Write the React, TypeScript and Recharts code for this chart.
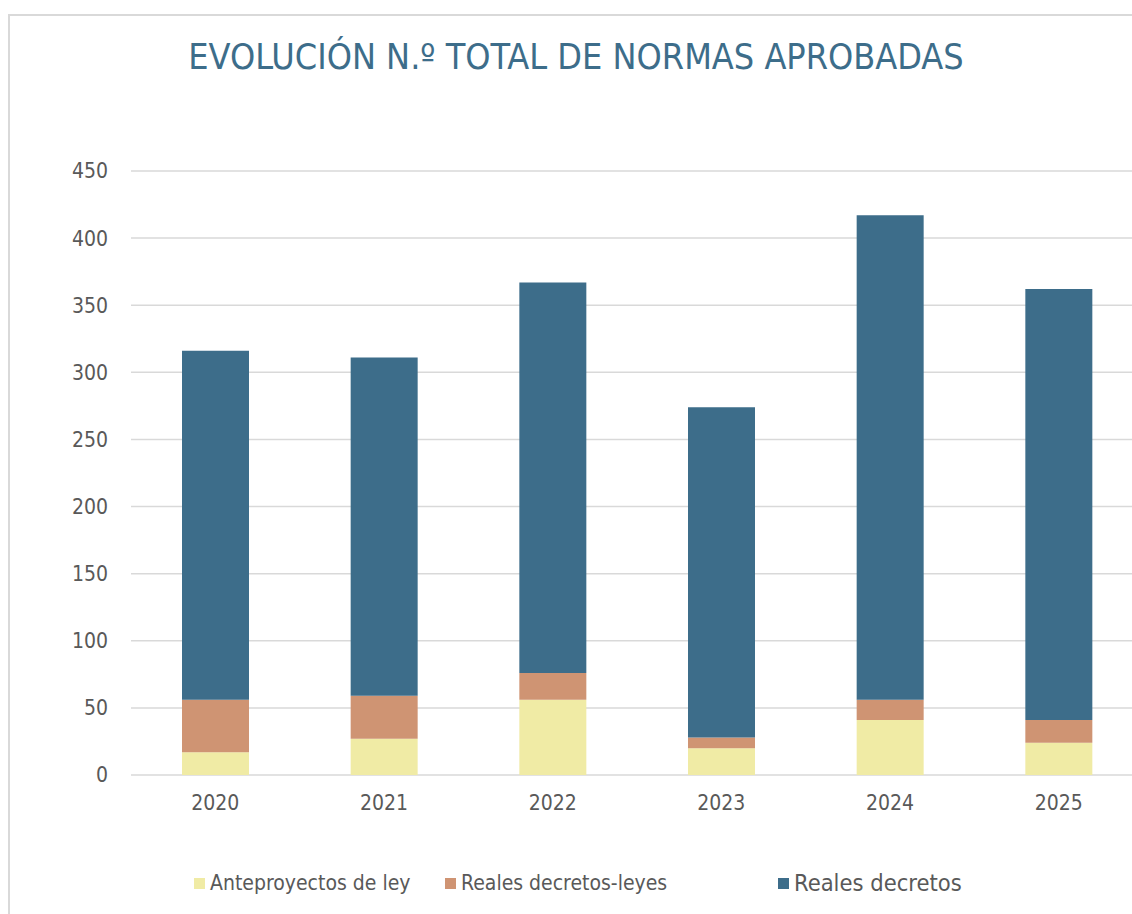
import { BarChart, Bar, XAxis, YAxis, CartesianGrid } from "recharts"

const years = ["2020", "2021", "2022", "2023", "2024", "2025"]
const anteproyectos = [17, 27, 56, 20, 41, 24]
const decretosLeyes = [39, 32, 20, 8, 15, 17]
const decretos = [260, 252, 291, 246, 361, 321]
const yTicks = [0, 50, 100, 150, 200, 250, 300, 350, 400, 450]

const series = [
  { key: "ante", name: "Anteproyectos de ley", color: "#f0eba5" },
  { key: "rdl", name: "Reales decretos-leyes", color: "#cf9473" },
  { key: "rd", name: "Reales decretos", color: "#3d6d8a" },
]

const data = years.map((year, i) => ({
  year,
  ante: anteproyectos[i],
  rdl: decretosLeyes[i],
  rd: decretos[i],
}))

const font = "'DejaVu Sans Condensed', 'DejaVu Sans', sans-serif"
// legend placement (the last entry is drawn a bit larger in the original)
const legendX = [194, 445, 778]
const legendSize = [21, 21, 23.5]

export default function App() {
  return (
    <div
      style={{
        position: "absolute",
        left: 0,
        top: 0,
        width: 1132,
        height: 914,
        overflow: "hidden",
        background: "#fff",
        fontFamily: font,
      }}
    >
      <div
        style={{
          position: "absolute",
          left: 8,
          top: 14,
          width: 1200,
          height: 1000,
          border: "2px solid #d9d9d9",
        }}
      />
      <div
        style={{
          position: "absolute",
          left: 0,
          width: 1152,
          top: 36,
          textAlign: "center",
          fontSize: 35.7,
          color: "#3d6d8a",
          whiteSpace: "nowrap",
        }}
      >
        EVOLUCIÓN N.º TOTAL DE NORMAS APROBADAS
      </div>
      <div style={{ position: "absolute", left: 0, top: 0 }}>
        <BarChart
          width={1160}
          height={914}
          data={data}
          margin={{ top: 171, right: 17, bottom: 99, left: 0 }}
          barSize={67}
        >
          <CartesianGrid vertical={false} stroke="#d9d9d9" strokeWidth={1.5} />
          <XAxis
            dataKey="year"
            axisLine={false}
            tickLine={false}
            height={40}
            tickMargin={14}
            tick={{ fill: "#595959", fontSize: 21, fontFamily: font }}
          />
          <YAxis
            width={131}
            domain={[0, 450]}
            ticks={yTicks}
            axisLine={false}
            tickLine={false}
            tickMargin={17}
            tick={{ fill: "#595959", fontSize: 21, fontFamily: font }}
          />
          {series.map((s) => (
            <Bar
              key={s.key}
              dataKey={s.key}
              name={s.name}
              stackId="a"
              fill={s.color}
              isAnimationActive={false}
            />
          ))}
        </BarChart>
      </div>
      {series.map((s, i) => (
        <div
          key={s.key}
          style={{
            position: "absolute",
            left: legendX[i],
            top: 883,
            transform: "translateY(-50%)",
            display: "flex",
            alignItems: "center",
            fontSize: legendSize[i],
            color: "#595959",
            whiteSpace: "nowrap",
          }}
        >
          <span
            style={{
              display: "inline-block",
              width: 11,
              height: 11,
              background: s.color,
              marginRight: 5,
            }}
          />
          {s.name}
        </div>
      ))}
    </div>
  )
}
